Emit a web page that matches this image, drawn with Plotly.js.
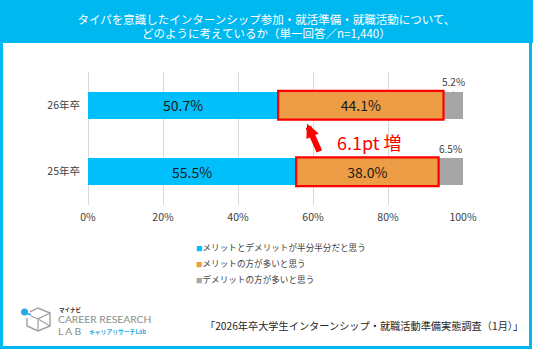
<!DOCTYPE html>
<html><head><meta charset="utf-8">
<script src="https://cdn.plot.ly/plotly-3.0.1.min.js"></script>
<style>html,body{margin:0;padding:0;background:#fff;}#chart{width:536px;height:350px;}</style>
</head><body><div id="chart"></div>
<script>
const categories = ['26年卒', '25年卒'];
const seriesNames = ['メリットとデメリットが半分半分だと思う', 'メリットの方が多いと思う', 'デメリットの方が多いと思う'];
const halfHalf = [50.7, 55.5];
const meritMore = [44.1, 38.0];
const demeritMore = [5.2, 6.5];
const xTickVals = [0, 20, 40, 60, 80, 100];
const xTickText = ['0%', '20%', '40%', '60%', '80%', '100%'];
const titleText = 'タイパを意識したインターンシップ参加・就活準備・就職活動について、<br>どのように考えているか（単一回答／n=1,440）';
const sourceText = '「2026年卒大学生インターンシップ・就職活動準備実態調査（1月）」';
const diffText = '6.1pt 増';

const colors = ['#00BFFA', '#EC9D45', '#A6A6A6'];
const BLUE = '#00B8F0';
const FONT = '"Noto Sans CJK JP", "Noto Sans", sans-serif';

// plot area in pixels
const L = 88, R = 463, T = 72, B = 205;
const px = x => (x - L) / (R - L);
const py = y => (B - y) / (B - T);

const yOrder = categories.slice().reverse();
const yIdx = c => yOrder.indexOf(c);
const barW = 0.4;

const series = [halfHalf, meritMore, demeritMore];
const traces = series.map((vals, k) => ({
  type: 'bar', orientation: 'h', name: seriesNames[k],
  y: categories, x: vals,
  marker: {color: colors[k]},
  width: barW,
  text: k < 2 ? vals.map(v => v.toFixed(1) + '%') : vals.map(() => ''),
  textposition: k < 2 ? 'inside' : 'none',
  insidetextanchor: 'middle',
  textfont: {family: FONT, size: 14, color: '#1a1a1a'},
  hoverinfo: 'skip', showlegend: false
}));

const shapes = [];
const annotations = [];

// frame + title band
shapes.push({type: 'rect', xref: 'paper', yref: 'paper', x0: px(0), x1: px(533), y0: py(0), y1: py(43), fillcolor: BLUE, line: {width: 0}, layer: 'below'});
shapes.push({type: 'rect', xref: 'paper', yref: 'paper', x0: px(1.5), x1: px(530.5), y0: py(1), y1: py(347.5), fillcolor: 'rgba(0,0,0,0)', line: {width: 3, color: BLUE}, layer: 'below'});

// red boxes around "merit" segments
categories.forEach((c, i) => {
  shapes.push({type: 'rect', xref: 'x', yref: 'y',
    x0: halfHalf[i], x1: halfHalf[i] + meritMore[i],
    y0: yIdx(c) - 0.215, y1: yIdx(c) + 0.215,
    line: {color: '#FF0000', width: 2.2}, fillcolor: 'rgba(0,0,0,0)'});
  // gray labels above
  annotations.push({x: halfHalf[i] + meritMore[i] + demeritMore[i] / 2, y: yIdx(c) + barW / 2,
    xref: 'x', yref: 'y', text: demeritMore[i].toFixed(1) + '%', showarrow: true,
    arrowhead: 0, arrowwidth: 1, arrowcolor: '#BFBFBF', ax: 0, ay: -10, standoff: 0,
    font: {family: FONT, size: 10, color: '#404040'}});
});

// red arrow and difference text
annotations.push({x: 58.4, y: 0.72, xref: 'x', yref: 'y', ax: 13, ay: 29, text: '', showarrow: true,
  arrowhead: 2, arrowsize: 0.45, arrowwidth: 6, arrowcolor: '#FF0000', standoff: 0});
annotations.push({x: 75.1, y: 0.45, xref: 'x', yref: 'y', text: diffText, showarrow: false,
  font: {family: FONT, size: 18, color: '#FF0000'}});

// legend (custom)
const legY = [247, 263, 278.5];
seriesNames.forEach((n, k) => {
  annotations.push({xref: 'paper', yref: 'paper', x: px(194), y: py(legY[k]), xanchor: 'left', yanchor: 'middle',
    text: '<span style="color:' + colors[k] + ';font-size:6.5px">■</span>' + n, showarrow: false,
    font: {family: FONT, size: 8.6, color: '#404040'}});
});

// source
annotations.push({xref: 'paper', yref: 'paper', x: px(203), y: py(325), xanchor: 'left', yanchor: 'middle',
  text: sourceText, showarrow: false, font: {family: FONT, size: 10.2, color: '#262626'}});

// logo icon (cube outline + blue pin)
const pp = (x, y) => px(x).toFixed(4) + ',' + py(y).toFixed(4);
shapes.push({type: 'path', xref: 'paper', yref: 'paper',
  path: 'M' + pp(30, 312) + 'L' + pp(38, 308) + 'L' + pp(50, 313) + 'L' + pp(50, 326) + 'L' + pp(38, 331) + 'L' + pp(27, 326) + 'L' + pp(27, 318),
  line: {color: '#A0A0A0', width: 1.4}, fillcolor: 'rgba(0,0,0,0)'});
shapes.push({type: 'path', xref: 'paper', yref: 'paper',
  path: 'M' + pp(38, 331) + 'L' + pp(38, 319) + 'L' + pp(50, 313) + 'M' + pp(38, 319) + 'L' + pp(31, 316) + 'M' + pp(38, 319) + 'L' + pp(50, 326),
  line: {color: '#A0A0A0', width: 1.2}, fillcolor: 'rgba(0,0,0,0)'});
shapes.push({type: 'path', xref: 'paper', yref: 'paper',
  path: 'M' + pp(24.5, 312) + 'L' + pp(31, 315),
  line: {color: '#2BA8E0', width: 1.6}});
shapes.push({type: 'circle', xref: 'paper', yref: 'paper', x0: px(21), x1: px(28), y0: py(315.5), y1: py(308.5),
  fillcolor: '#2BA8E0', line: {width: 0}});

annotations.push({xref: 'paper', yref: 'paper', x: px(57), y: py(310), xanchor: 'left', yanchor: 'middle',
  text: '<b>マイナビ</b>', showarrow: false, font: {family: FONT, size: 5.5, color: '#333'}});
annotations.push({xref: 'paper', yref: 'paper', x: px(56), y: py(318.5), xanchor: 'left', yanchor: 'middle',
  text: 'CAREER RESEARCH', showarrow: false, font: {family: 'Lato, "DejaVu Sans", sans-serif', size: 10.3, color: '#8C8C8C'}});
annotations.push({xref: 'paper', yref: 'paper', x: px(56), y: py(331), xanchor: 'left', yanchor: 'middle',
  text: 'L A B', showarrow: false, font: {family: 'Lato, "DejaVu Sans", sans-serif', size: 10.3, color: '#8C8C8C'}});
annotations.push({xref: 'paper', yref: 'paper', x: px(87), y: py(331), xanchor: 'left', yanchor: 'middle',
  text: '<b>キャリアリサーチLab</b>', showarrow: false, font: {family: FONT, size: 5.8, color: '#2BA8E0'}});

const layout = {
  width: 536, height: 350,
  margin: {l: L, r: 536 - R, t: T, b: 350 - B},
  paper_bgcolor: '#ffffff', plot_bgcolor: 'rgba(0,0,0,0)',
  barmode: 'stack', showlegend: false,
  title: {text: titleText, x: 0.497, xanchor: 'center', y: 1 - 23.5 / 350, yanchor: 'middle',
    font: {family: FONT, size: 11.5, color: '#ffffff'}},
  xaxis: {range: [0, 100], tickvals: xTickVals, ticktext: xTickText, showgrid: true, gridcolor: '#D9D9D9',
    zeroline: true, zerolinecolor: '#D9D9D9', zerolinewidth: 1, showline: false, ticks: '',
    ticklabelstandoff: 4,
    tickfont: {family: FONT, size: 10.5, color: '#404040'}, fixedrange: true},
  yaxis: {categoryorder: 'array', categoryarray: yOrder, range: [-0.5, 1.5], showgrid: false, zeroline: false,
    ticks: '', ticklabelstandoff: 7, tickfont: {family: FONT, size: 10.5, color: '#404040'}, fixedrange: true},
  shapes: shapes, annotations: annotations,
  font: {family: FONT}
};

Plotly.newPlot('chart', traces, layout, {staticPlot: true, displayModeBar: false});
</script></body></html>
